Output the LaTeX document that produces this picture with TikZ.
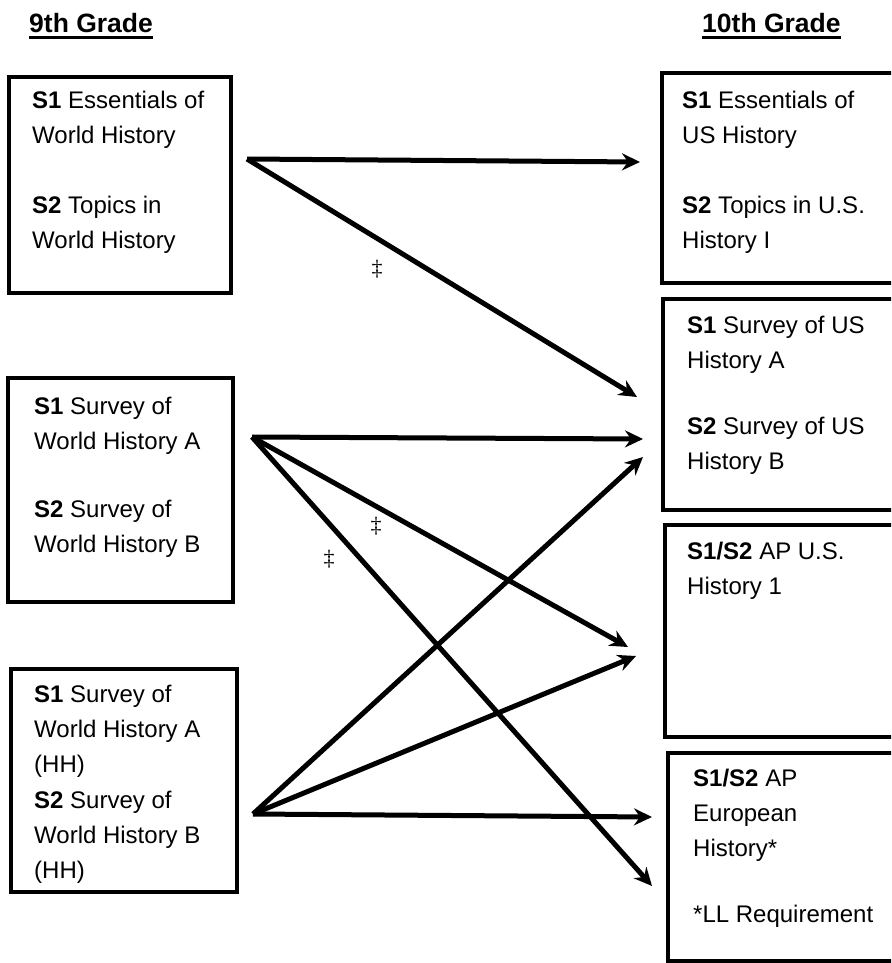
\documentclass[tikz,border=0pt]{standalone}
\usepackage{fontspec}
\setmainfont{Liberation Sans}
\newfontfamily\dagfont{Liberation Serif}
\usetikzlibrary{arrows.meta}
\begin{document}
\begin{tikzpicture}[x=1pt,y=-1pt,
  box/.style={draw, line width=4.3pt, inner sep=0pt, rectangle},
  txt/.style={anchor=north west, inner sep=0pt, align=left, font=\fontsize{24}{35}\selectfont},
  head/.style={anchor=base west, inner sep=0pt, font=\fontsize{26.5}{30}\selectfont\bfseries},
  arr/.style={line width=5pt, line join=miter, -{Stealth[length=18pt,width=17pt,inset=6pt]}},
  dg/.style={font=\dagfont\fontsize{22}{24}\selectfont, inner sep=0pt}]
\useasboundingbox (0,0) rectangle (891,963);
\clip (0,0) rectangle (891,963);
\fill[white] (0,0) rectangle (891,963);

% headings
\node[head] (h9) at (29,33) {9th Grade};
\node[head] (h10) at (702,33) {10th Grade};
\draw[line width=2.7pt] ([yshift=-4.5pt]h9.base west) -- ([yshift=-4.5pt]h9.base east);
\draw[line width=2.7pt] ([yshift=-4.5pt]h10.base west) -- ([yshift=-4.5pt]h10.base east);

% boxes
\node[box, minimum width=222pt, minimum height=216pt] (L1) at (120,185) {};
\node[box, minimum width=225pt, minimum height=224pt] (L2) at (120.5,490) {};
\node[box, minimum width=226pt, minimum height=223pt] (L3) at (124,780.5) {};
\node[box, minimum width=238pt, minimum height=210pt] (R1) at (781,178) {};
\node[box, minimum width=237pt, minimum height=211pt] (R2) at (781.5,404.5) {};
\node[box, minimum width=235pt, minimum height=212pt] (R3) at (782.5,631) {};
\node[box, minimum width=232pt, minimum height=208pt] (R4) at (784,857) {};

% texts
\def\st{\rule{0pt}{20pt}}
\node[txt] (tL1) at (32,88) {\st\textbf{S1} Essentials of\\World History\\[35pt]\textbf{S2} Topics in\\World History};
\node[txt] (tL2) at (34,394) {\st\textbf{S1} Survey of\\World History A\\[33pt]\textbf{S2} Survey of\\World History B};
\node[txt] (tL3) at (34,682) {\st\textbf{S1} Survey of\\World History A\\(HH)\\[1pt]\textbf{S2} Survey of\\World History B\\(HH)};
\node[txt] (tR1) at (682,88) {\st\textbf{S1} Essentials of\\US History\\[35pt]\textbf{S2} Topics in U.S.\\History I};
\node[txt] (tR2) at (687,313) {\st\textbf{S1} Survey of US\\History A\\[31pt]\textbf{S2} Survey of US\\History B};
\node[txt] (tR3) at (687,539) {\st\textbf{S1/S2} AP U.S.\\History 1};
\node[txt] (tR4) at (693,766) {\st\textbf{S1/S2} AP\\European\\History*\\[31pt]*LL Requirement};

% connector end points
\coordinate (o1) at (247,159);
\coordinate (o2) at (252,437);
\coordinate (o3) at (253,814);
\coordinate (e1) at (640,162);
\coordinate (e2) at (637,397);
\coordinate (e3) at (643,439);
\coordinate (e4) at (628,647);
\coordinate (e5) at (652,886);
\coordinate (e6) at (643,457);
\coordinate (e7) at (636,656);
\coordinate (e8) at (652,817);

\draw[arr] (o1) -- (e1);
\draw[arr] (o1) -- (e2);
\draw[arr] (o2) -- (e3);
\draw[arr] (o2) -- (e4);
\draw[arr] (o2) -- (e5);
\draw[arr] (o3) -- (e6);
\draw[arr] (o3) -- (e7);
\draw[arr] (o3) -- (e8);

% double daggers
\node[dg] (d1) at (377,269) {‡};
\node[dg] (d2) at (376,526) {‡};
\node[dg] (d3) at (329,559) {‡};
\end{tikzpicture}
\end{document}
